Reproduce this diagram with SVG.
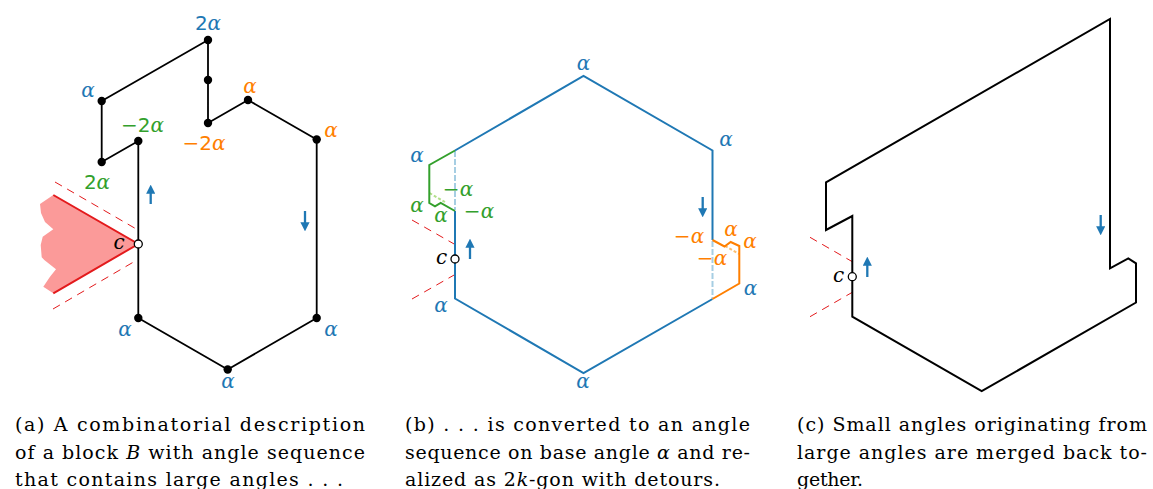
<svg xmlns="http://www.w3.org/2000/svg" width="1153" height="489" viewBox="0 0 1153 489">
<defs>
<marker id="ah" viewBox="0 0 10 10" refX="2" refY="5" markerWidth="4" markerHeight="4" orient="auto" markerUnits="strokeWidth">
<path d="M0,0 L10,5 L0,10 Z" fill="#1f78b4"/>
</marker>
</defs>
<style>
.blk{fill:none;stroke:#000;stroke-width:1.8;stroke-linejoin:miter}
.dot{fill:#000}
.cdot{fill:#fff;stroke:#000;stroke-width:1.3}
.arr{stroke:#1f78b4;stroke-width:2.3;fill:none;marker-end:url(#ah)}
.rdash{stroke:#e31a1c;stroke-width:1;stroke-dasharray:8,6;fill:none}
.lbl{text-anchor:middle}
.al{font-style:italic}
.sn{font-style:normal}
.b{fill:#1f78b4}.g{fill:#33a02c}.o{fill:#ff7f00}.k{fill:#000}
.cap{fill:#000}
.hex{fill:none;stroke:#1f78b4;stroke-width:2}
</style>

<g id="panel-a">
<g id="a-wedge">
<polygon points="138.3,244 53.3,195 40,204 41,213 45,222 53.3,229.3 42.7,236.7 40.7,245 41.7,257.3 44.3,260 56,269.3 50,276.7 43.3,286.7 53.3,293.3" fill="#fb9a99"/>
<path d="M53.3,195 L138.3,244 L53.3,293.3" fill="none" stroke="#e31a1c" stroke-width="2"/>
<path class="rdash" d="M55,182 L138,230"/>
<path class="rdash" d="M53,309 L137,260"/>
</g>
<g id="a-polygon">
<path class="blk" d="M208,40 L208,123 L248,100 L316.7,139.5 L316.7,318 L227.7,369.5 L138.3,318 L138.3,141 L101.7,162 L101.7,101 Z"/>
<g id="a-dots">
<circle class="dot" cx="208" cy="40" r="4.2"/>
<circle class="dot" cx="208" cy="80" r="4.2"/>
<circle class="dot" cx="208" cy="123" r="4.2"/>
<circle class="dot" cx="248" cy="100" r="4.2"/>
<circle class="dot" cx="316.7" cy="139.5" r="4.2"/>
<circle class="dot" cx="316.7" cy="318" r="4.2"/>
<circle class="dot" cx="227.7" cy="369.5" r="4.2"/>
<circle class="dot" cx="138.3" cy="318" r="4.2"/>
<circle class="dot" cx="138.3" cy="141" r="4.2"/>
<circle class="dot" cx="101.7" cy="162" r="4.2"/>
<circle class="dot" cx="101.7" cy="101" r="4.2"/>
</g>
<circle id="a-c" class="cdot" cx="138.3" cy="244" r="4"/>
</g>
<g id="a-arrows">
<path class="arr" d="M150.7,204 L150.7,192"/>
<path class="arr" d="M305,211 L305,224"/>
</g>
<g id="a-labels" style="font-family:'DejaVu Serif',serif;font-size:20px">
<text class="lbl b" x="208" y="30"><tspan class="sn" style="font-family:'DejaVu Sans',sans-serif">2</tspan><tspan class="al">α</tspan></text>
<text class="lbl b al" x="88" y="97">α</text>
<text class="lbl g" x="142.5" y="132"><tspan class="sn" style="font-family:'DejaVu Sans',sans-serif">−2</tspan><tspan class="al">α</tspan></text>
<text class="lbl g" x="97" y="189"><tspan class="sn" style="font-family:'DejaVu Sans',sans-serif">2</tspan><tspan class="al">α</tspan></text>
<text class="lbl o" x="204" y="150"><tspan class="sn" style="font-family:'DejaVu Sans',sans-serif">−2</tspan><tspan class="al">α</tspan></text>
<text class="lbl o al" x="250" y="93">α</text>
<text class="lbl o al" x="331" y="137">α</text>
<text class="lbl b al" x="331" y="336">α</text>
<text class="lbl b al" x="228" y="388">α</text>
<text class="lbl b al" x="125" y="336">α</text>
<text class="lbl k al" x="119" y="249">c</text>
</g>
</g>

<g id="panel-b">
<g id="b-dashes">
<path class="rdash" d="M412,220 L455,244.5"/>
<path class="rdash" d="M412,299 L455,274.5"/>
<path d="M455,151 L455,210" stroke="#a6cee3" stroke-width="2" stroke-dasharray="6,2" fill="none"/>
<path d="M712.5,241 L712.5,298" stroke="#a6cee3" stroke-width="2" stroke-dasharray="6,2" fill="none"/>
<path d="M429.5,193 L445,202" stroke="#b2df8a" stroke-width="2" stroke-dasharray="3,2" fill="none"/>
<path d="M725,246 L739,254" stroke="#fdbf6f" stroke-width="2" stroke-dasharray="3,2" fill="none"/>
</g>
<g id="b-hexagon">
<path class="hex" d="M455,150.5 L583.5,76 L712.5,150.5 L712.5,240"/>
<path class="hex" d="M712.5,299 L583.5,373 L455,298.5 L455,211"/>
</g>
<g id="b-green">
<path d="M455,150.5 L429.3,165 L429.3,203 L435,206.3 L440.7,203 L455,211" fill="none" stroke="#33a02c" stroke-width="2"/>
</g>
<g id="b-orange">
<path d="M712.5,240 L724.5,246.5 L730.7,242 L739.3,246 L739.3,283.5 L712.5,299" fill="none" stroke="#ff7f00" stroke-width="2"/>
</g>
<circle id="b-c" class="cdot" cx="455" cy="259" r="4"/>
<g id="b-arrows">
<path class="arr" d="M470,259 L470,246"/>
<path class="arr" d="M702.7,197 L702.7,210"/>
</g>
<g id="b-labels" style="font-family:'DejaVu Serif',serif;font-size:20px">
<text class="lbl b al" x="583.5" y="70">α</text>
<text class="lbl b al" x="726" y="146">α</text>
<text class="lbl b al" x="417" y="162">α</text>
<text class="lbl g al" x="417" y="212">α</text>
<text class="lbl g al" x="441" y="222">α</text>
<text class="lbl g" x="458" y="196"><tspan class="sn" style="font-family:'DejaVu Sans',sans-serif">−</tspan><tspan class="al">α</tspan></text>
<text class="lbl g" x="479" y="218"><tspan class="sn" style="font-family:'DejaVu Sans',sans-serif">−</tspan><tspan class="al">α</tspan></text>
<text class="lbl k al" x="441.5" y="264">c</text>
<text class="lbl b al" x="441" y="312">α</text>
<text class="lbl b al" x="583" y="388">α</text>
<text class="lbl o" x="689" y="243"><tspan class="sn" style="font-family:'DejaVu Sans',sans-serif">−</tspan><tspan class="al">α</tspan></text>
<text class="lbl o" x="712" y="265"><tspan class="sn" style="font-family:'DejaVu Sans',sans-serif">−</tspan><tspan class="al">α</tspan></text>
<text class="lbl o al" x="731" y="236">α</text>
<text class="lbl o al" x="750" y="248">α</text>
<text class="lbl b al" x="750.5" y="295">α</text>
</g>
</g>

<g id="panel-c">
<path class="rdash" d="M810,237.3 L852.3,261.7"/>
<path class="rdash" d="M810,316.7 L852.3,292.3"/>
<path id="c-polygon" d="M1110,19 L1110,268.3 L1128.3,258.3 L1136,263.3 L1136,302.5 L981.7,391.2 L852.3,316.7 L852.3,216 L826,230 L826,182.3 Z" fill="none" stroke="#000" stroke-width="2"/>
<circle id="c-c" class="cdot" cx="852.3" cy="276.7" r="4"/>
<g id="c-arrows">
<path class="arr" d="M867.3,277 L867.3,264"/>
<path class="arr" d="M1100.7,215 L1100.7,228"/>
</g>
<text class="lbl k al" x="838.5" y="282" style="font-family:'DejaVu Serif',serif;font-size:20px">c</text>
</g>

<g id="captions" style="font-family:'DejaVu Serif',serif;font-size:19px">
<text class="cap" x="15" y="431" textLength="350" lengthAdjust="spacing">(a) A combinatorial description</text>
<text class="cap" x="15" y="459" textLength="350" lengthAdjust="spacing">of a block <tspan font-style="italic">B</tspan> with angle sequence</text>
<text class="cap" x="15" y="486" textLength="328" lengthAdjust="spacing">that contains large angles . . .</text>
<text class="cap" x="405" y="431" textLength="345" lengthAdjust="spacing">(b) . . . is converted to an angle</text>
<text class="cap" x="405" y="459" textLength="345" lengthAdjust="spacing">sequence on base angle <tspan font-style="italic">α</tspan> and re-</text>
<text class="cap" x="405" y="486" textLength="315" lengthAdjust="spacing">alized as 2<tspan font-style="italic">k</tspan>-gon with detours.</text>
<text class="cap" x="797" y="431" textLength="350" lengthAdjust="spacing">(c) Small angles originating from</text>
<text class="cap" x="797" y="459" textLength="350" lengthAdjust="spacing">large angles are merged back to-</text>
<text class="cap" x="797" y="486" textLength="66" lengthAdjust="spacing">gether.</text>
</g>
</svg>
